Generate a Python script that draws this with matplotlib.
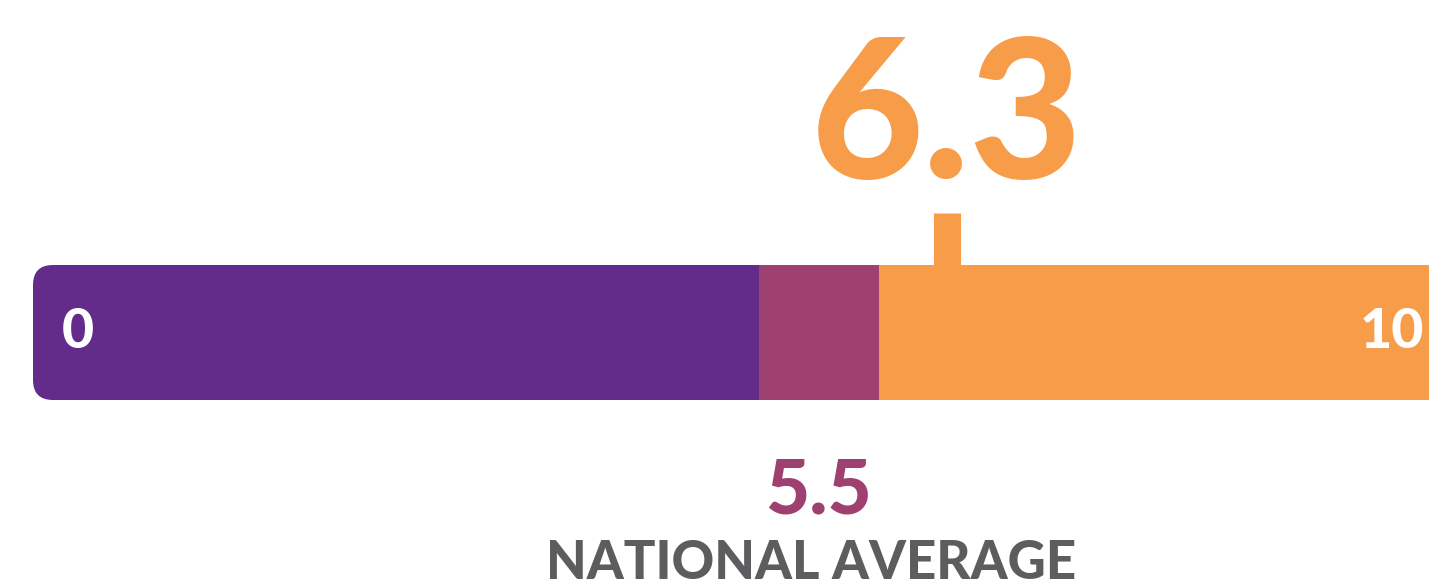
import numpy as np
import matplotlib.pyplot as plt
from matplotlib.patches import FancyBboxPatch

# Data
scale_min, scale_max = 0, 10
band_lo, band_hi = 5.0, 5.83      # national average band
national_avg = 5.5
score = 6.3

purple = "#642C8A"
magenta = "#9E4170"
orange = "#F79C48"
grey = "#5D5D5F"

plt.rcParams['font.family'] = ['Lato', 'DejaVu Sans']

fig = plt.figure(figsize=(14.29, 5.87), dpi=100)
ax = fig.add_axes([0, 0, 1, 1])
px = 145.1  # pixels per unit on the x scale
ax.set_xlim(-33 / px, (1429 - 33) / px)
ax.set_ylim(587, 0)
ax.axis("off")

bar_y, bar_h = 332.5, 135
segments = [(scale_min, band_lo, purple), (band_lo, band_hi, magenta), (band_hi, scale_max, orange)]

clip = FancyBboxPatch((scale_min, bar_y - bar_h / 2), scale_max - scale_min, bar_h,
                      boxstyle="round,pad=0,rounding_size=%f" % (20 / px),
                      mutation_aspect=px, facecolor="none", edgecolor="none")
ax.add_patch(clip)
for lo, hi, c in segments:
    b = ax.barh(bar_y, hi - lo, left=lo, height=bar_h, color=c, linewidth=0)
    for r in b:
        r.set_clip_path(clip)

# end labels (the "10" is kept inside the visible area)
ax.text(scale_min + 0.2, bar_y, "0", color="white", fontsize=40, fontweight="black",
        ha="left", va="center")
ax.text(1424 / px - 33 / px, bar_y, "10", color="white", fontsize=40, fontweight="black",
        ha="right", va="center")

# score marker
ax.plot([score, score], [213, bar_y - bar_h / 2], color=orange, lw=19.5, solid_capstyle="butt")
ax.text(score, 178, f"{score}", color=orange, fontsize=140, fontweight="black",
        ha="center", va="baseline")

# national average
mid = (band_lo + band_hi) / 2
ax.text(mid, 514, f"{national_avg}", color=magenta, fontsize=55, fontweight="black",
        ha="center", va="baseline")
ax.text(mid - 0.05, 579, "NATIONAL AVERAGE", color=grey, fontsize=38, fontweight="black",
        ha="center", va="baseline")

fig.savefig("out.png", dpi=100)
